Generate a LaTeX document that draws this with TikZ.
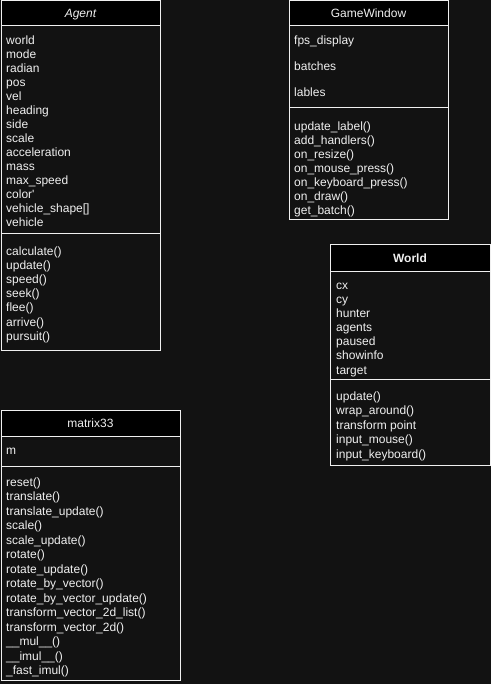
\documentclass[tikz,border=0pt]{standalone}
\usepackage{fontspec}
\setmainfont{Liberation Sans}
\usepackage{tikz}
\definecolor{bgcol}{HTML}{121212}
\definecolor{fgcol}{HTML}{F0F0F0}
\tikzset{
	umlline/.style={draw=fgcol, line width=1pt},
	umlhead/.style={fill=black, draw=fgcol, line width=1pt},
	umltext/.style={anchor=west, inner sep=0pt, text=fgcol, text height=8.6pt, text depth=2.5pt, font=\fontsize{12}{14}\selectfont},
	umltitle/.style={umltext, anchor=center}
}

\begin{document}
\begin{tikzpicture}[x=1pt, y=-1pt]
			%%%%% START %%%%%
			\fill[bgcol] (0, 0) rectangle (491, 684);
			\useasboundingbox (0, 0) rectangle (491, 684);
			
			% Agent
			\draw[umlhead] (1, 1) rectangle (160, 26);
			\draw[umlline] (1, 26) rectangle (160, 350);
			\draw[umlline] (1, 234) -- (160, 234);
			\node[umltitle] (agent) at (80.5, 14) {\itshape Agent};
			\foreach \t [count=\i] in {world, mode, radian, pos, vel, heading, side, scale, acceleration, mass, max\_speed, color\textquotesingle, vehicle\_shape[], vehicle}
				\node[umltext] (agent-attr-\i) at (6, {41+14*(\i-1)}) {\t};
			\foreach \t [count=\i] in {calculate(), update(), speed(), seek(), flee(), arrive(), pursuit()}
				\node[umltext] (agent-op-\i) at (6, {252+14.2*(\i-1)}) {\t};
			
			% GameWindow
			\draw[umlhead] (289, 1) rectangle (448, 26);
			\draw[umlline] (289, 26) rectangle (448, 220);
			\draw[umlline] (289, 108) -- (448, 108);
			\node[umltitle] (gamewin) at (368.5, 14) {GameWindow};
			\foreach \t [count=\i] in {fps\_display, batches, lables}
				\node[umltext] (gamewin-attr-\i) at (294, {41+26*(\i-1)}) {\t};
			\foreach \t [count=\i] in {update\_label(), add\_handlers(), on\_resize(), on\_mouse\_press(), on\_keyboard\_press(), on\_draw(), get\_batch()}
				\node[umltext] (gamewin-op-\i) at (294, {127+14*(\i-1)}) {\t};
			
			% World
			\draw[umlhead] (330, 245) rectangle (490, 271);
			\draw[umlline] (330, 271) rectangle (490, 465);
			\draw[umlline] (330, 379) -- (490, 379);
			\node[umltitle] (world) at (410, 259) {\bfseries World};
			\foreach \t [count=\i] in {cx, cy, hunter, agents, paused, showinfo, target}
				\node[umltext] (world-attr-\i) at (336, {286+14.17*(\i-1)}) {\t};
			\foreach \t [count=\i] in {update(), wrap\_around(), transform point, input\_mouse(), input\_keyboard()}
				\node[umltext] (world-op-\i) at (336, {397+14.5*(\i-1)}) {\t};
			
			% matrix33
			\draw[umlhead] (1, 410) rectangle (180, 436);
			\draw[umlline] (1, 436) rectangle (180, 680);
			\draw[umlline] (1, 466) -- (180, 466);
			\node[umltitle] (matrix) at (90.5, 424) {matrix33};
			\node[umltext] (matrix-attr-1) at (6, 451) {m};
			\foreach \t [count=\i] in {reset(), translate(), translate\_update(), scale(), scale\_update(), rotate(), rotate\_update(), rotate\_by\_vector(), rotate\_by\_vector\_update(), transform\_vector\_2d\_list(), transform\_vector\_2d(), \_\_mul\_\_(), \_\_imul\_\_(), \_fast\_imul()}
				\node[umltext] (matrix-op-\i) at (6, {483+14.5*(\i-1)}) {\t};
			%%%%% END %%%%%
\end{tikzpicture}
\end{document}
